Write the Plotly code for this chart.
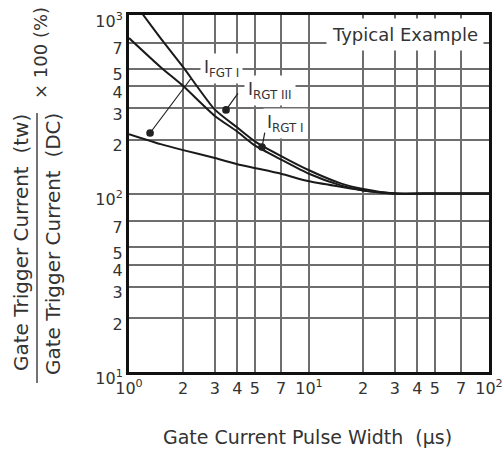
import plotly.graph_objects as go

# ---- data (log-log) ----
pulse_width_us = [1, 1.2, 1.5, 2, 3, 4, 5, 7, 10, 15, 20, 30, 50, 100]
irgt_iii = [1270, 1000, 740, 510, 295, 234, 196, 162, 135, 114, 106, 100, 100, 100]
irgt_i_x = [1, 1.5, 2, 3, 4, 5, 7, 10, 15, 20, 30, 50, 100]
irgt_i = [743, 510, 400, 272, 222, 186, 155, 129, 111, 104, 100, 100, 100]
ifgt_i = [215, 189, 175, 158, 146, 139, 129, 117, 109, 104, 100, 100, 100]

x_tickvals = [1, 2, 3, 4, 5, 7, 10, 20, 30, 40, 50, 70, 100]
x_ticktext = ["10<sup>0</sup>", "2", "3", "4", "5", "7", "10<sup>1</sup>",
              "2", "3", "4", "5", "7", "10<sup>2</sup>"]
y_tickvals = [10, 20, 30, 40, 50, 70, 100, 200, 300, 400, 500, 700, 1000]
y_ticktext = ["10<sup>1</sup>", "2", "3", "4", "5", "7", "10<sup>2</sup>",
              "2", "3", "4", "5", "7", "10<sup>3</sup>"]

FONT = "DejaVu Sans"
TXT = "#333333"
LINE = "#1a1a1a"
GRID = "#6e6e6e"

W, H = 504, 456
L, R, T, B = 129, 15, 15, 84
PW, PH = W - L - R, H - T - B


def px(xpix):
    return (xpix - L) / PW


def py(ypix):
    return (H - B - ypix) / PH


fig = go.Figure()
line_style = dict(color=LINE, width=2, shape="spline", smoothing=0.6)
fig.add_trace(go.Scatter(x=pulse_width_us, y=irgt_iii, mode="lines", line=line_style,
                         name="IRGT III", hoverinfo="skip"))
fig.add_trace(go.Scatter(x=irgt_i_x, y=irgt_i, mode="lines", line=line_style,
                         name="IRGT I", hoverinfo="skip"))
fig.add_trace(go.Scatter(x=irgt_i_x, y=ifgt_i, mode="lines", line=line_style,
                         name="IFGT I", hoverinfo="skip"))

axis_common = dict(
    type="log", showgrid=True, gridcolor=GRID, gridwidth=1.5,
    showline=True, linecolor="#111111", linewidth=3, mirror=True,
    ticks="", tickfont=dict(family=FONT, size=16, color=TXT),
    tickmode="array", automargin=False, ticklabeloverflow="allow",
)
fig.update_xaxes(range=[0, 2], tickvals=x_tickvals, ticktext=x_ticktext, **axis_common)
fig.update_yaxes(range=[1, 3], tickvals=y_tickvals, ticktext=y_ticktext,
                 ticklabelshift=6, **axis_common)


def label(text, xp, yp, size, angle=0, **kw):
    d = dict(text=text, xref="paper", yref="paper", x=px(xp), y=py(yp),
             xanchor="center", yanchor="middle", textangle=angle, showarrow=False,
             font=dict(family=FONT, size=size, color=TXT))
    d.update(kw)
    return d


ann = [
    label("Gate Current Pulse Width \u00a0(\u00b5s)", 307, 437, 19),
    label("Gate Trigger Current \u00a0(tw)", 21, 243, 20, angle=-90),
    label("Gate Trigger Current \u00a0(DC)", 53, 244, 20, angle=-90),
    label("\u00d7 100 (%)", 41, 53, 18, angle=-90),
    label("Typical Example", 405, 34, 18, bgcolor="white", borderpad=5),
    label("I<sub>FGT I</sub>", 221, 68, 17, bgcolor="white", borderpad=3),
    label("I<sub>RGT III</sub>", 270, 90, 17, bgcolor="white", borderpad=3),
    label("I<sub>RGT I</sub>", 285, 123, 17, bgcolor="white", borderpad=3),
]
# leader lines with dots (tips in log10 data units, tails as pixel offsets)
leaders = [
    (0.117, 2.339, 42, -56),
    (0.539, 2.468, 13, -18),
    (0.739, 2.26, 3, -16),
]
for lx, ly, ax, ay in leaders:
    ann.append(dict(text="", x=lx, y=ly, xref="x", yref="y", showarrow=True,
                    ax=ax, ay=ay, arrowhead=6, arrowsize=1.6, arrowwidth=1.2,
                    arrowcolor="#222222", standoff=0, startstandoff=0))

fig.update_layout(
    width=W, height=H, margin=dict(l=L, r=R, t=T, b=B, autoexpand=False),
    paper_bgcolor="white", plot_bgcolor="white", showlegend=False,
    annotations=ann,
    shapes=[dict(type="line", xref="paper", yref="paper",
                 x0=px(37), x1=px(37), y0=py(383), y1=py(113),
                 line=dict(color="#444444", width=1.5))],
)

fig.write_html(
    "out.html",
    config={"displayModeBar": False},
    post_script="document.body.style.margin='0px';document.body.style.overflow='hidden';",
)
